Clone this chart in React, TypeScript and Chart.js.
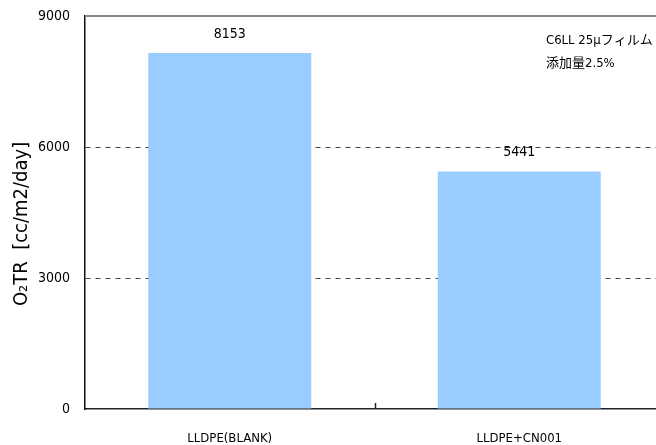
import React, { useEffect, useRef } from "react";
import { Chart, registerables } from "chart.js";

Chart.register(...registerables);

const categories = ["LLDPE(BLANK)", "LLDPE+CN001"];
const o2trValues = [8153, 5441];
const yTicks = [0, 3000, 6000, 9000];
const noteLines = ["C6LL 25μフィルム", "添加量2.5%"];
const yTitle = "O₂TR  [cc/m2/day]    ";

const FONT = '"DejaVu Sans Condensed", "DejaVu Sans", "Noto Sans CJK JP", sans-serif';

export default function App() {
  const ref = useRef<HTMLCanvasElement | null>(null);

  useEffect(() => {
    const canvas = ref.current;
    if (!canvas) return;

    const overlay = {
      id: "overlay",
      afterDatasetsDraw(chart: any) {
        const ctx = chart.ctx;
        const area = chart.chartArea;
        const xs = chart.scales.x;
        ctx.save();
        // top border line
        ctx.strokeStyle = "#888888";
        ctx.lineWidth = 2;
        ctx.beginPath();
        ctx.moveTo(area.left, area.top);
        ctx.lineTo(area.right, area.top);
        ctx.stroke();
        // category divider tick
        ctx.strokeStyle = "#222222";
        ctx.lineWidth = 1.5;
        const dx = Math.round(xs.getPixelForValue(0.5)) + 0.5;
        ctx.beginPath();
        ctx.moveTo(dx, area.bottom - 6);
        ctx.lineTo(dx, area.bottom);
        ctx.stroke();
        // value labels
        ctx.fillStyle = "#000";
        ctx.font = `14px ${FONT}`;
        ctx.textAlign = "center";
        ctx.textBaseline = "middle";
        const meta = chart.getDatasetMeta(0);
        meta.data.forEach((bar: any, i: number) => {
          ctx.fillText(String(o2trValues[i]), bar.x, bar.y - 19);
        });
        // note
        ctx.font = `13px ${FONT}`;
        ctx.textAlign = "left";
        ctx.fillText(noteLines[0], 546, 41);
        ctx.fillText(noteLines[1], 546, 64);
        ctx.restore();
      },
    };

    const chart = new Chart(canvas, {
      type: "bar",
      data: {
        labels: categories,
        datasets: [
          {
            data: o2trValues,
            backgroundColor: "#99CCFF",
            borderWidth: 0,
            barPercentage: 0.563,
            categoryPercentage: 1,
          },
        ],
      },
      options: {
        animation: false,
        responsive: false,
        events: [],
        layout: { padding: { top: 16, right: 16, left: 0, bottom: 0 } },
        plugins: {
          legend: { display: false },
          tooltip: { enabled: false },
        },
        scales: {
          x: {
            grid: { display: false, drawTicks: false },
            border: { display: true, color: "#222222", width: 1.5 },
            ticks: {
              color: "#000",
              font: { family: FONT, size: 13 },
              padding: 22,
              maxRotation: 0,
            },
            afterFit(scale: any) {
              scale.height = 36;
              scale.paddingLeft = 0;
              scale.paddingRight = 0;
            },
          },
          y: {
            min: 0,
            max: 9000,
            afterBuildTicks(scale: any) {
              scale.ticks = yTicks.map((v) => ({ value: v }));
            },
            grid: {
              drawTicks: false,
              color: (c: any) =>
                c.tick && (c.tick.value === 3000 || c.tick.value === 6000) ? "#444444" : "rgba(0,0,0,0)",
              lineWidth: 1,
            },
            border: { display: true, color: "#111111", width: 1.5, dash: [5, 5] },
            ticks: {
              color: "#000",
              font: { family: FONT, size: 14 },
              padding: 15,
              callback: (v: any) => String(v),
            },
            title: {
              display: true,
              text: yTitle,
              color: "#000",
              font: { family: FONT, size: 20 },
              padding: { top: 10, bottom: 0 },
            },
            afterFit(scale: any) {
              scale.width = 85;
              scale.paddingTop = 0;
              scale.paddingBottom = 0;
            },
          },
        },
      },
      plugins: [overlay],
    });

    return () => chart.destroy();
  }, []);

  return (
    <div
      style={{
        position: "fixed",
        left: 0,
        top: 0,
        width: 656,
        height: 445,
        overflow: "hidden",
        background: "#fff",
      }}
    >
      <canvas ref={ref} width={680} height={445} style={{ display: "block" }} />
    </div>
  );
}
